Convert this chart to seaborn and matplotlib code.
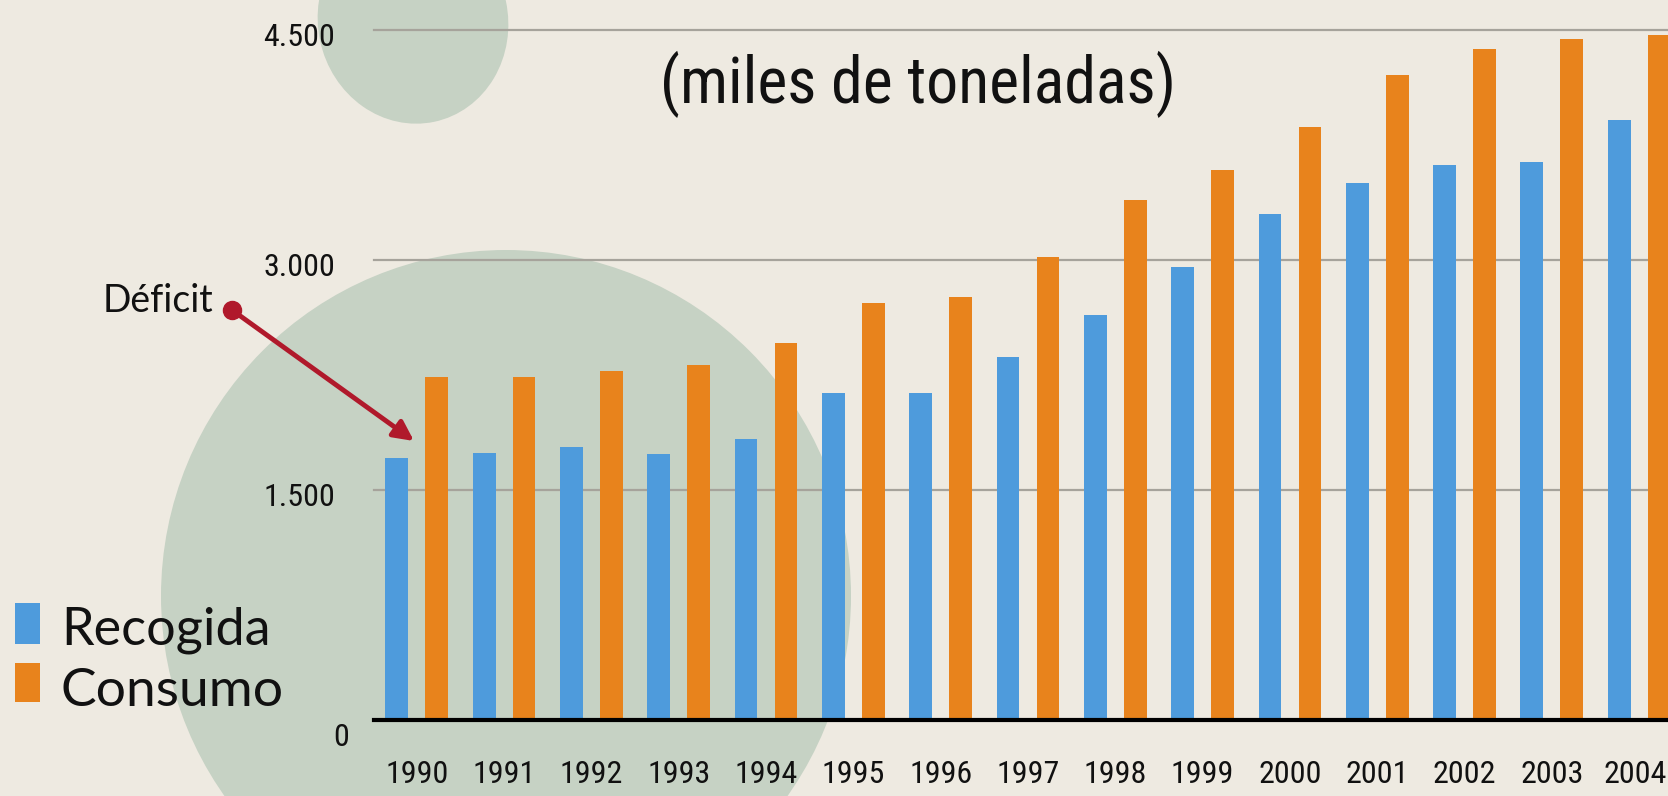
import numpy as np
import pandas as pd
import matplotlib
matplotlib.use("Agg")
import matplotlib.pyplot as plt
import seaborn as sns
from matplotlib.patches import Ellipse, Rectangle
from matplotlib import font_manager
import matplotlib.transforms as mtransforms

# ---------------- data ----------------
years = [str(y) for y in range(1990, 2005)]
recogida = [1706, 1739, 1782, 1734, 1830, 2130, 2130, 2365, 2640, 2955,
            3303, 3499, 3618, 3640, 3912]
consumo = [2238, 2238, 2277, 2314, 2456, 2717, 2760, 3021, 3390, 3586,
           3868, 4205, 4379, 4444, 4466]
series_names = ["Recogida", "Consumo"]
y_ticks = [0, 1500, 3000, 4500]
y_tick_labels = ["0", "1.500", "3.000", "4.500"]
title_text = "(miles de toneladas)"
annotation_text = "Déficit"

# ---------------- style ----------------
BG = "#EEEAE1"
CIRCLE = "#C6D2C4"
BLUE = "#4E9BDC"
ORANGE = "#E8831C"
GRID = "#A6A39B"
RED = "#B0192B"

entries = font_manager.fontManager.ttflist
names = {f.name for f in entries}
NARROW_FAMILY, NARROW_STRETCH, NARROW_IS = "Liberation Sans", "normal", False
for cand in ["Liberation Sans Narrow", "Roboto Condensed", "Open Sans Condensed",
             "Noto Sans Condensed", "DejaVu Sans Condensed"]:
    if cand in names:
        NARROW_FAMILY, NARROW_IS = cand, True
        break
if not NARROW_IS:
    for fam in ["Roboto", "Noto Sans", "Open Sans", "DejaVu Sans"]:
        if any(f.name == fam and f.stretch in ("condensed", "semi-condensed", "extra-condensed")
               and f.style == "normal" and f.weight in (400, "normal", "regular") for f in entries):
            NARROW_FAMILY, NARROW_STRETCH, NARROW_IS = fam, "condensed", True
            break
HUMAN = "Lato" if "Lato" in names else "DejaVu Sans"

YEAR_SIZE = 23 if NARROW_IS else 18
YT_SIZE = 23 if NARROW_IS else 21
TITLE_SIZE = 46 if NARROW_IS else 42

W, H = 1668, 796
fig = plt.figure(figsize=(W / 100, H / 100), dpi=100)
fig.patch.set_facecolor(BG)

# background decorations (pixel coordinates, y downward)
bg = fig.add_axes([0, 0, 1, 1], zorder=0)
bg.set_xlim(0, W)
bg.set_ylim(H, 0)
bg.axis("off")
bg.add_patch(Ellipse((506, 596), 690, 692, color=CIRCLE, lw=0))
bg.add_patch(Ellipse((413, 21), 190, 206, angle=-12, color=CIRCLE, lw=0))

# main chart
ax = fig.add_axes([374 / W, (H - 720) / H, 1 - 374 / W, 690 / H], zorder=1)
ax.patch.set_alpha(0)
df = pd.DataFrame({
    "Año": years * 2,
    "Toneladas": recogida + consumo,
    "Serie": [series_names[0]] * len(years) + [series_names[1]] * len(years),
})
sns.barplot(data=df, x="Año", y="Toneladas", hue="Serie",
            palette=[BLUE, ORANGE], width=0.916, gap=0.43, saturation=1,
            legend=False, ax=ax, errorbar=None)
ax.set_xlim(-0.49, 14.33)
ax.set_ylim(0, 4500)
ax.set_xlabel("")
ax.set_ylabel("")
for s in ["left", "right", "top"]:
    ax.spines[s].set_visible(False)
ax.spines["bottom"].set_color("black")
ax.spines["bottom"].set_linewidth(3)
ax.spines["bottom"].set_zorder(5)
ax.set_yticks(y_ticks)
ax.set_yticklabels(y_tick_labels)
ax.yaxis.grid(True, color=GRID, lw=1.6)
ax.set_axisbelow(True)
for gl in ax.get_ygridlines():
    gl.set_clip_on(False)
ax.tick_params(axis="both", length=0)
ax.tick_params(axis="x", pad=29, labelsize=YEAR_SIZE)
ax.tick_params(axis="y", pad=28, labelsize=YT_SIZE)
for lab in ax.get_xticklabels() + ax.get_yticklabels():
    lab.set_family(NARROW_FAMILY)
    lab.set_stretch(NARROW_STRETCH)
    lab.set_color("#111111")
xl = ax.get_xticklabels()
# keep the last year fully inside the figure
xl[-1].set_transform(xl[-1].get_transform() + mtransforms.ScaledTranslation(-4 / 100, 0, fig.dpi_scale_trans))
for lab in ax.get_yticklabels():
    if lab.get_text() == "0":
        lab.set_transform(lab.get_transform() + mtransforms.ScaledTranslation(14 / 100, -14 / 100, fig.dpi_scale_trans))
    else:
        lab.set_transform(lab.get_transform() + mtransforms.ScaledTranslation(0, -5 / 100, fig.dpi_scale_trans))

# overlay: title, annotation, legend
ov = fig.add_axes([0, 0, 1, 1], zorder=3)
ov.set_xlim(0, W)
ov.set_ylim(H, 0)
ov.axis("off")
ov.patch.set_alpha(0)

ov.text(918, 84, title_text, ha="center", va="center", fontsize=TITLE_SIZE,
        family=NARROW_FAMILY, fontstretch=NARROW_STRETCH, color="#111111")

ov.text(103, 312, annotation_text, ha="left", va="baseline", fontsize=27,
        family=HUMAN, color="#111111")
ov.annotate("", xy=(414, 441), xytext=(232, 310),
            arrowprops=dict(arrowstyle="-|>", color=RED, lw=3.5,
                            mutation_scale=30, shrinkA=0, shrinkB=0))
ov.plot([232], [310], "o", ms=13, color=RED)

ov.add_patch(Rectangle((15, 603), 25, 41, color=BLUE, lw=0))
ov.add_patch(Rectangle((15, 663), 25, 39, color=ORANGE, lw=0))
ov.text(61, 644, series_names[0], ha="left", va="baseline", fontsize=37.5,
        family=HUMAN, color="#111111")
ov.text(61, 706, series_names[1], ha="left", va="baseline", fontsize=38.5,
        family=HUMAN, color="#111111")

fig.savefig("out.png", dpi=100, facecolor=BG)
